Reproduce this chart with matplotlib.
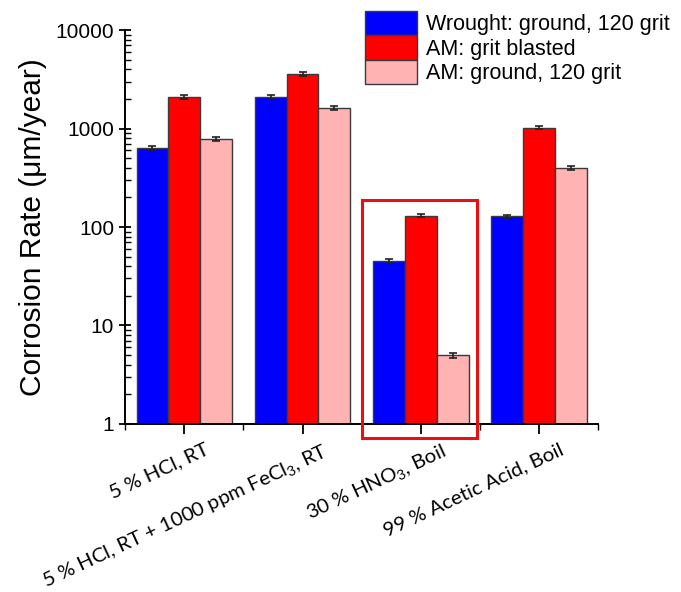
import matplotlib
matplotlib.use("Agg")
import matplotlib.pyplot as plt
import matplotlib.transforms as mtransforms
from matplotlib.patches import Rectangle
import numpy as np

plt.rcParams['mathtext.fontset'] = 'custom'
plt.rcParams['mathtext.rm'] = 'Lato'
plt.rcParams['mathtext.it'] = 'Lato:italic'

# data
conditions = ['5 % HCl, RT',
              '5 % HCl, RT + 1000 ppm FeCl$_3$, RT',
              '30 % HNO$_3$, Boil',
              '99 % Acetic Acid, Boil']
series_names = ['Wrought: ground, 120 grit', 'AM: grit blasted', 'AM: ground, 120 grit']
wrought_ground = [630, 2100, 45.5, 128]
am_blasted = [2080, 3600, 130, 1020]
am_ground = [780, 1620, 5.0, 400]
wrought_err = [30, 90, 2.0, 5]
blasted_err = [90, 150, 5, 40]
ground_err = [35, 70, 0.3, 18]
highlight = 2  # index of boxed condition

colors = ['#0000ff', '#ff0000', '#ffb3b3']
values = [wrought_ground, am_blasted, am_ground]
errors = [wrought_err, blasted_err, ground_err]

fig = plt.figure(figsize=(6.81, 5.92), dpi=100)
ax = fig.add_axes([0.184, 0.284, 0.694, 0.665])

x = np.arange(1, len(conditions) + 1)
w = 0.27
for i in range(3):
    ax.bar(x + (i - 1) * w, values[i], w, color=colors[i], edgecolor='#3a3a3a',
           linewidth=1.0, label=series_names[i], zorder=2)
    ax.errorbar(x + (i - 1) * w, values[i], yerr=errors[i], fmt='none',
                ecolor='#222222', elinewidth=1.2, capsize=3, capthick=1.2, zorder=3)

ax.set_yscale('log')
ax.set_ylim(1, 10000)
ax.set_xlim(0.5, 4.5)
ax.set_yticks([1, 10, 100, 1000, 10000])
ax.set_yticklabels(['1', '10', '100', '1000', '10000'], family='Liberation Sans', fontsize=15)
ax.yaxis.set_minor_locator(matplotlib.ticker.LogLocator(base=10, subs=np.arange(2, 10)))
ax.yaxis.set_minor_formatter(matplotlib.ticker.NullFormatter())
ax.tick_params(axis='y', which='major', direction='inout', length=9, width=1.3)
ax.tick_params(axis='y', which='minor', direction='in', length=4, width=1.0)

ax.set_xticks(x)
ax.set_xticks(np.arange(0.5, 4.6, 1.0), minor=True)
ax.tick_params(axis='x', which='major', direction='out', length=7, width=1.3)
ax.tick_params(axis='x', which='minor', direction='out', length=4, width=1.0)
ax.set_xticklabels(conditions, rotation=25, ha='right', rotation_mode='anchor',
                   family='Lato', fontsize=14.7)
offset = mtransforms.ScaledTranslation(20 / 100, -2 / 100, fig.dpi_scale_trans)
for lab in ax.get_xticklabels():
    lab.set_transform(lab.get_transform() + offset)

for s in ['top', 'right']:
    ax.spines[s].set_visible(False)
for s in ['left', 'bottom']:
    ax.spines[s].set_linewidth(1.4)

ax.set_ylabel('Corrosion Rate (μm/year)', family='Liberation Sans', fontsize=21.5, labelpad=6)

# red box around the boxed condition
box = Rectangle((x[highlight] - 0.5, 0.72), 0.98, 188 - 0.72, fill=False,
                edgecolor='#e81010', linewidth=2.2, clip_on=False, zorder=4)
ax.add_patch(box)

fig.legend(loc='upper right', bbox_to_anchor=(1.0, 1.0), frameon=False,
           prop={'family': 'Liberation Sans', 'size': 15.5}, handlelength=2.4,
           handleheight=1.35, labelspacing=0.02, handletextpad=0.45, borderaxespad=0.1)

fig.savefig('out.png', dpi=100)
